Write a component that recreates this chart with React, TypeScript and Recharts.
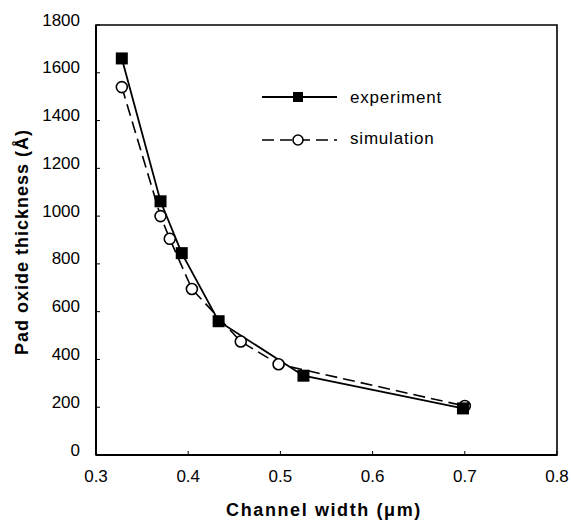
import React from 'react';
import { LineChart, Line, XAxis, YAxis, ReferenceArea } from 'recharts';

const experimentX = [0.328, 0.37, 0.393, 0.433, 0.525, 0.698];
const experimentY = [1660, 1062, 845, 560, 332, 195];
const simulationX = [0.328, 0.37, 0.38, 0.404, 0.457, 0.498, 0.7];
const simulationY = [1540, 1000, 905, 695, 475, 380, 205];
const xTicks = [0.3, 0.4, 0.5, 0.6, 0.7, 0.8];
const yTicks = [0, 200, 400, 600, 800, 1000, 1200, 1400, 1600, 1800];

const expData = experimentX.map((x, i) => ({ x, y: experimentY[i] }));
const simData = simulationX.map((x, i) => ({ x, y: simulationY[i] }));

const FONT = '"Liberation Sans", Arial, sans-serif';

const SquareDot = (p: any) => (
  <rect key={`sq-${p.index}`} x={p.cx - 6} y={p.cy - 6} width={12} height={12} fill="#000" />
);
const CircleDot = (p: any) => (
  <circle key={`ci-${p.index}`} cx={p.cx} cy={p.cy} r={5.5} fill="#fff" stroke="#000" strokeWidth={1.6} />
);

const YTick = (p: any) => (
  <g>
    <line x1={96} y1={p.y} x2={100} y2={p.y} stroke="#000" strokeWidth={1} />
    <text x={p.x} y={p.y - 5} textAnchor="end" dominantBaseline="central" fontFamily={FONT} fontSize={17} fill="#000">
      {p.payload.value}
    </text>
  </g>
);

const XTick = (p: any) => (
  <g>
    <line x1={p.x} y1={455} x2={p.x} y2={451} stroke="#000" strokeWidth={1} />
    <text x={p.x} y={p.y} dy="0.71em" textAnchor="middle" fontFamily={FONT} fontSize={17} fill="#000">
      {Number(p.payload.value).toFixed(1)}
    </text>
  </g>
);

const LegendBox = () => (
  <svg width={220} height={70} style={{ position: 'absolute', left: 260, top: 85, overflow: 'visible' }}>
    <line x1={2} y1={12} x2={77} y2={12} stroke="#000" strokeWidth={2} />
    <rect x={33} y={7} width={10} height={10} fill="#000" />
    <text x={90} y={12} dy="0.35em" fontFamily={FONT} fontSize={17} letterSpacing={0.8} fill="#000">experiment</text>
    <line x1={2} y1={55} x2={77} y2={55} stroke="#000" strokeWidth={1.6} strokeDasharray="12 6" />
    <circle cx={38} cy={55} r={5} fill="#fff" stroke="#000" strokeWidth={1.6} />
    <text x={90} y={53} dy="0.35em" fontFamily={FONT} fontSize={17} letterSpacing={0.8} fill="#000">simulation</text>
  </svg>
);

export default function App() {
  return (
    <div style={{ position: 'absolute', left: 0, top: 0, width: 571, height: 527, background: '#fff' }}>
      <LineChart width={571} height={527} margin={{ top: 25, right: 14, bottom: 0, left: 36 }}>
        <XAxis
          type="number"
          dataKey="x"
          domain={[0.3, 0.8]}
          ticks={xTicks}
          allowDataOverflow
          height={72}
          tickLine={false}
          tickSize={0}
          tickMargin={15}
          axisLine={{ stroke: '#000', strokeWidth: 2 }}
          tick={<XTick />}
          label={{
            content: () => (
              <text x={324} y={510} textAnchor="middle" dominantBaseline="central" fontFamily={FONT} fontSize={18} letterSpacing={1.6} fontWeight="bold" fill="#000">
                Channel width (μm)
              </text>
            ),
          }}
        />
        <YAxis
          type="number"
          dataKey="y"
          domain={[0, 1800]}
          ticks={yTicks}
          width={60}
          tickLine={false}
          tickSize={0}
          tickMargin={16}
          axisLine={{ stroke: '#000', strokeWidth: 2 }}
          tick={<YTick />}
          label={{
            content: () => (
              <text x={22} y={242} transform="rotate(-90 22 242)" textAnchor="middle" dominantBaseline="central" fontFamily={FONT} fontSize={18} letterSpacing={1} fontWeight="bold" fill="#000">
                Pad oxide thickness (Å)
              </text>
            ),
          }}
        />
        <ReferenceArea x1={0.3} x2={0.8} y1={0} y2={1800} fill="none" stroke="#000" strokeWidth={1.6} ifOverflow="visible" />
        <Line data={simData} dataKey="y" name="simulation" stroke="#000" strokeWidth={1.6} strokeDasharray="12 6" dot={CircleDot} isAnimationActive={false} />
        <Line data={expData} dataKey="y" name="experiment" stroke="#000" strokeWidth={1.8} dot={SquareDot} isAnimationActive={false} />
      </LineChart>
      <LegendBox />
    </div>
  );
}
